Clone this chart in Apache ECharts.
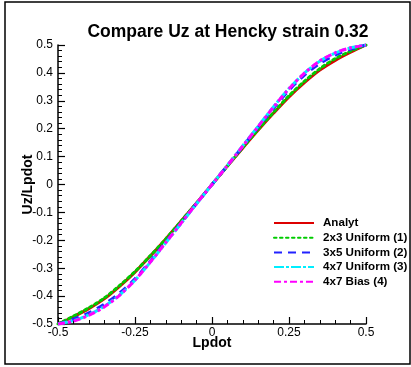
<!DOCTYPE html>
<html>
<head>
<meta charset="utf-8">
<script src="https://cdn.jsdelivr.net/npm/echarts@6/dist/echarts.min.js"></script>
<style>
html,body{margin:0;padding:0;background:#fff;}
#chart{width:411px;height:367px;}
</style>
</head>
<body>
<div id="chart"></div>
<script>
const titleText = 'Compare Uz at Hencky strain 0.32';
const xName = 'Lpdot';
const yName = 'Uz/Lpdot';
const seriesNames = ['Analyt', '2x3 Uniform (1)', '3x5 Uniform (2)', '4x7 Uniform (3)', '4x7 Bias (4)'];
const xs = [-0.5,-0.45,-0.4,-0.35,-0.3,-0.25,-0.2,-0.15,-0.1,-0.05,0,0.05,0.1,0.15,0.2,0.25,0.3,0.35,0.4,0.45,0.5];
const analyt = [-0.5,-0.474,-0.445,-0.41,-0.365,-0.314,-0.256,-0.195,-0.131,-0.066,0,0.066,0.131,0.195,0.256,0.314,0.365,0.41,0.445,0.474,0.5];
const uni2x3 = [-0.5,-0.472,-0.442,-0.407,-0.362,-0.312,-0.255,-0.195,-0.131,-0.066,0,0.066,0.132,0.197,0.259,0.318,0.37,0.415,0.451,0.478,0.5];
const uni3x5 = [-0.5,-0.483,-0.46,-0.429,-0.389,-0.338,-0.274,-0.206,-0.137,-0.068,0,0.068,0.137,0.206,0.274,0.338,0.392,0.434,0.464,0.485,0.5];
const uni4x7 = [-0.5,-0.488,-0.467,-0.437,-0.396,-0.343,-0.278,-0.209,-0.139,-0.069,0,0.069,0.139,0.209,0.279,0.344,0.399,0.442,0.471,0.49,0.5];
const bias4x7 = [-0.5,-0.49,-0.469,-0.439,-0.397,-0.343,-0.278,-0.208,-0.138,-0.068,0,0.068,0.138,0.208,0.278,0.343,0.399,0.443,0.472,0.49,0.5];

const seriesValues = [analyt, uni2x3, uni3x5, uni4x7, bias4x7];
const colors = ['#dd0000', '#00cc00', '#2222ff', '#00eeff', '#ff00ff'];
const dashes = ['solid', [2.5, 3.5], [8, 6], [10, 2, 3, 2], [7, 3, 3, 3]];
const FONT = '"Liberation Sans", Arial, sans-serif';

const chart = echarts.init(document.getElementById('chart'), null, {renderer: 'canvas'});
function fmt(v){ return String(Math.round(v*100)/100); }
const option = {
  animation: false,
  backgroundColor: '#fff',
  graphic: [
    {type:'rect', shape:{x:5, y:2, width:405, height:362}, style:{fill:'none', stroke:'#000', lineWidth:1.5}, z:0},
    {type:'text', style:{text:titleText, x:228, y:32, textAlign:'center', textVerticalAlign:'middle', font:'bold 17.5px ' + FONT, fill:'#000'}}
  ],
  grid: {left:58, right:45, top:45, bottom:43},
  legend: {
    orient:'vertical', left:273, top:217, padding:0,
    itemWidth:40, itemHeight:14, itemGap:2.7,
    itemStyle:{opacity:0},
    textStyle:{fontFamily:FONT, fontWeight:'bold', fontSize:11.6, color:'#000', padding:[0,0,0,4]},
    data: seriesNames
  },
  xAxis: {
    type:'value', min:-0.5, max:0.5, interval:0.25,
    name:xName, nameLocation:'middle', nameGap:12, nameMoveOverlap:false,
    nameTextStyle:{fontFamily:FONT, fontWeight:'bold', fontSize:14, color:'#000'},
    axisLine:{show:true, onZero:false, lineStyle:{color:'#000', width:1.5}},
    axisTick:{show:true, inside:true, length:7, lineStyle:{color:'#000', width:1.2}},
    minorTick:{show:true, splitNumber:5, length:4, lineStyle:{color:'#000', width:1}},
    splitLine:{show:false},
    axisLabel:{fontFamily:FONT, fontSize:12, color:'#000', margin:3, formatter:fmt}
  },
  yAxis: {
    type:'value', min:-0.5, max:0.5, interval:0.1,
    name:yName, nameLocation:'middle', nameGap:23, nameMoveOverlap:false,
    nameTextStyle:{fontFamily:FONT, fontWeight:'bold', fontSize:14, color:'#000'},
    axisLine:{show:true, onZero:false, lineStyle:{color:'#000', width:1.5}},
    axisTick:{show:true, inside:true, length:7, lineStyle:{color:'#000', width:1.2}},
    minorTick:{show:true, splitNumber:5, length:4, lineStyle:{color:'#000', width:1}},
    splitLine:{show:false},
    axisLabel:{fontFamily:FONT, fontSize:12, color:'#000', margin:5, formatter:fmt}
  },
  series: seriesNames.map((n, i) => ({
    name:n, type:'line', smooth:0.3, symbol:'none', showSymbol:false,
    data: xs.map((x, k) => [x, seriesValues[i][k]]),
    itemStyle:{color:colors[i]},
    lineStyle:{color:colors[i], width:3, type:dashes[i], cap: i===1 ? 'round' : 'butt'},
    z: 2 + i
  }))
};
chart.setOption(option);
</script>
</body>
</html>
